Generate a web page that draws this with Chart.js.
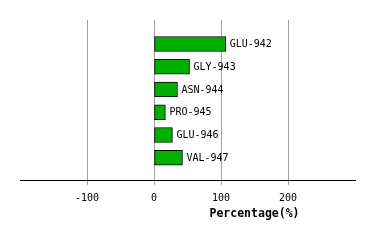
<!DOCTYPE html>
<html>
<head>
<meta charset="utf-8">
<script src="https://cdn.jsdelivr.net/npm/chart.js@4"></script>
<style>
  html, body { margin: 0; padding: 0; background: #fff; }
  #wrap { width: 374px; height: 240px; }
</style>
</head>
<body>
<div id="wrap"><canvas id="myChart"></canvas></div>
<script>
// residues and their percentage
var residueList = ['GLU-942', 'GLY-943', 'ASN-944', 'PRO-945', 'GLU-946', 'VAL-947'];
var percentList = [107, 53, 35, 17, 27.5, 42.5];
var tickList = [-100, 0, 100, 200];
var axisTitle = 'Percentage(%)';

var monoFont = '"DejaVu Sans Mono", monospace';

var points = [];
for (var i = 0; i < residueList.length; i++) {
    points.push({ x: percentList[i], y: i });
}

// residue name next to each bar
var barLabels = {
    id: 'barLabels',
    afterDatasetsDraw: function (chart) {
        var ctx = chart.ctx;
        var meta = chart.getDatasetMeta(0);
        ctx.save();
        ctx.font = '10px ' + monoFont;
        ctx.fillStyle = '#000';
        ctx.textBaseline = 'middle';
        ctx.textAlign = 'left';
        meta.data.forEach(function (bar, idx) {
            ctx.fillText(residueList[idx], bar.x + 4, bar.y + 0.5);
        });
        ctx.restore();
    }
};

// axis title sits over the positive half
var xTitle = {
    id: 'xTitle',
    afterDraw: function (chart) {
        var ctx = chart.ctx;
        var sx = chart.scales.x;
        ctx.save();
        ctx.font = 'bold 11.5px ' + monoFont;
        ctx.fillStyle = '#000';
        ctx.textBaseline = 'middle';
        ctx.textAlign = 'center';
        ctx.fillText(axisTitle, sx.getPixelForValue(150), 214.5);
        ctx.restore();
    }
};

const ctx = document.getElementById('myChart').getContext('2d');
const chart = new Chart(ctx, {
    type: 'bar',
    data: {
        datasets: [{
            data: points,
            backgroundColor: '#00b000',
            borderColor: '#000',
            borderWidth: 1,
            borderSkipped: false,
            barThickness: 15
        }]
    },
    options: {
        indexAxis: 'y',
        responsive: true,
        maintainAspectRatio: false,
        animation: false,
        layout: { padding: { left: 20, right: 19, top: 20, bottom: 0 } },
        plugins: {
            legend: { display: false },
            tooltip: { enabled: false }
        },
        scales: {
            x: {
                type: 'linear',
                min: -200,
                max: 300,
                afterFit: function (s) { s.height = 60; },
                afterBuildTicks: function (s) {
                    s.ticks = [-200].concat(tickList, [300]).map(function (v) { return { value: v }; });
                },
                ticks: {
                    color: '#000',
                    font: { family: monoFont, size: 10 },
                    padding: 7,
                    maxRotation: 0,
                    callback: function (v) {
                        return tickList.indexOf(v) >= 0 ? String(v) : '';
                    }
                },
                grid: {
                    tickLength: 5,
                    lineWidth: 1,
                    color: function (c) {
                        var v = c.tick ? c.tick.value : null;
                        return tickList.indexOf(v) >= 0 ? '#a0a0a0' : 'rgba(0,0,0,0)';
                    }
                },
                border: { display: true, color: '#000', width: 1 }
            },
            y: {
                type: 'linear',
                reverse: true,
                offset: false,
                min: -1.056,
                max: 5.98,
                display: false
            }
        }
    },
    plugins: [barLabels, xTitle]
});
</script>
</body>
</html>
